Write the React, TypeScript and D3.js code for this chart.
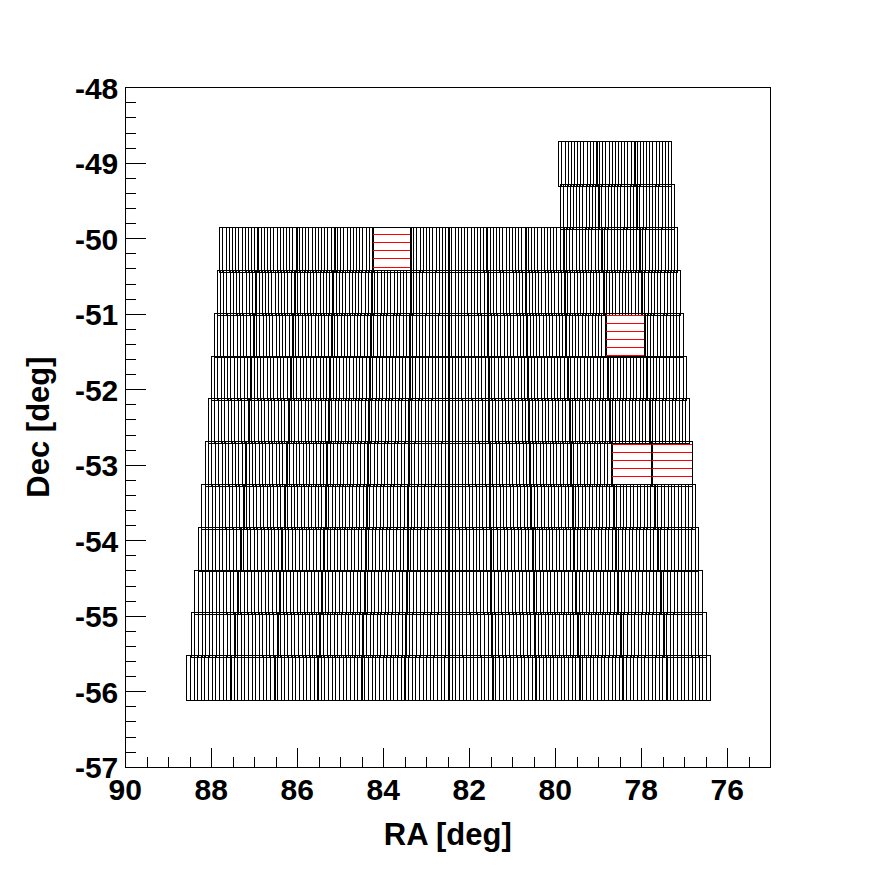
import React from 'react';
import * as d3 from 'd3';

// ---- data ----
// Top Dec edge of each row of tiles (deg)
const rowDecTop = [-48.715, -49.285, -49.855, -50.422, -50.989, -51.556, -52.122, -52.689, -53.256, -53.823, -54.39, -54.957, -55.524];
// RA of the left (east) and right (west) edge of each row (deg)
const rowRaLeft = [79.93, 79.884, 87.814, 87.874, 87.944, 88.016, 88.086, 88.156, 88.23, 88.309, 88.391, 88.477, 88.581];
const rowRaRight = [77.302, 77.233, 77.163, 77.107, 77.037, 76.965, 76.895, 76.826, 76.751, 76.672, 76.591, 76.505, 76.409];
// number of tiles in each row
const rowTileCount = [3, 3, 12, 12, 12, 12, 12, 12, 12, 12, 12, 12, 12];
const tileDecHeight = 0.59;
const stripsPerTile = 12;
// tiles drawn with horizontal hatching instead of strips: [row, tile]
const hatchedTiles: [number, number][] = [[2, 4], [4, 10], [7, 10], [7, 11]];

const raMajorTicks = [90, 88, 86, 84, 82, 80, 78, 76];
const decMajorTicks = [-48, -49, -50, -51, -52, -53, -54, -55, -56, -57];

export default function App() {
  const x = d3.scaleLinear().domain([90, 75]).range([125.3, 770.3]);
  const y = d3.scaleLinear().domain([-48, -57]).range([87.3, 766.7]);
  const [x0, x1] = x.range();
  const [y0, y1] = y.range();

  const raMinor = d3.range(75, 90.001, 0.5);
  const decMinor = d3.range(-57, -47.999, 0.2).map((v) => Math.round(v * 10) / 10);

  const hatchSet = new Set(hatchedTiles.map(([r, t]) => `${r}-${t}`));
  const hatchStep = 8.07;
  const hatchPhase = y(-49.947);

  const tiles: React.ReactNode[] = [];
  rowDecTop.forEach((dTop, r) => {
    const n = rowTileCount[r];
    const w = (rowRaLeft[r] - rowRaRight[r]) / n;
    const ty0 = y(dTop);
    const ty1 = y(dTop - tileDecHeight);
    for (let i = 0; i < n; i++) {
      const raL = rowRaLeft[r] - i * w;
      const raR = raL - w;
      const tx0 = x(raL);
      const tx1 = x(raR) + (i < n - 1 ? 1 : 0);
      const key = `${r}-${i}`;
      const hatched = hatchSet.has(key);
      const inner: React.ReactNode[] = [];
      if (!hatched) {
        for (let k = 1; k < stripsPerTile; k++) {
          const sx = Math.round(x(raL - (k * w) / stripsPerTile)) + 0.5;
          inner.push(<line key={k} x1={sx} x2={sx} y1={ty0} y2={ty1} stroke="#000" strokeWidth={1} />);
        }
      } else {
        const kStart = Math.ceil((ty0 + 1 - hatchPhase) / hatchStep);
        for (let k = kStart; hatchPhase + k * hatchStep < ty1; k++) {
          const hy = Math.round(hatchPhase + k * hatchStep) + 0.5;
          inner.push(<line key={'h' + k} x1={tx0} x2={tx1} y1={hy} y2={hy} stroke="#ff0000" strokeWidth={1} />);
        }
      }
      tiles.push(
        <g key={key}>
          {inner}
          <rect
            x={Math.round(tx0) + 0.5}
            y={Math.round(ty0) + 0.5}
            width={Math.round(tx1) - Math.round(tx0)}
            height={Math.round(ty1) - Math.round(ty0)}
            fill="none"
            stroke="#000"
            strokeWidth={1}
          />
        </g>
      );
    }
  });

  const font = '"Liberation Sans", Arial, Helvetica, sans-serif';

  return (
    <svg
      width={896}
      height={872}
      style={{ position: 'absolute', left: 0, top: 0, background: '#fff' }}
      shapeRendering="crispEdges"
    >
      <rect x={0} y={0} width={896} height={872} fill="#fff" />
      <g>{tiles}</g>
      {/* frame */}
      <rect x={Math.round(x0) + 0.5} y={Math.round(y0) + 0.5} width={Math.round(x1) - Math.round(x0)} height={Math.round(y1) - Math.round(y0)} fill="none" stroke="#000" strokeWidth={1} />
      {/* x ticks */}
      {raMinor.map((v) => {
        const major = raMajorTicks.includes(v);
        const px = Math.round(x(v)) + 0.5;
        return <line key={'xt' + v} x1={px} x2={px} y1={y1} y2={y1 - (major ? 19 : 10)} stroke="#000" />;
      })}
      {decMinor.map((v) => {
        const major = decMajorTicks.includes(v);
        const py = Math.round(y(v)) + 0.5;
        return <line key={'yt' + v} x1={x0} x2={x0 + (major ? 21 : 11)} y1={py} y2={py} stroke="#000" />;
      })}
      {raMajorTicks.map((v) => (
        <text key={'xl' + v} x={x(v)} y={y1 + 33} textAnchor="middle" fontFamily={font} fontWeight="bold" fontSize={30} fill="#000">
          {v}
        </text>
      ))}
      {decMajorTicks.map((v) => (
        <text key={'yl' + v} x={x0 - 7} y={y(v) + 11.5} textAnchor="end" fontFamily={font} fontWeight="bold" fontSize={30} fill="#000">
          {String(v)}
        </text>
      ))}
      <text x={(x0 + x1) / 2} y={845} textAnchor="middle" fontFamily={font} fontWeight="bold" fontSize={31} fill="#000">
        RA [deg]
      </text>
      <text transform={`translate(49,${(y0 + y1) / 2}) rotate(-90)`} textAnchor="middle" fontFamily={font} fontWeight="bold" fontSize={31} fill="#000">
        Dec [deg]
      </text>
    </svg>
  );
}
